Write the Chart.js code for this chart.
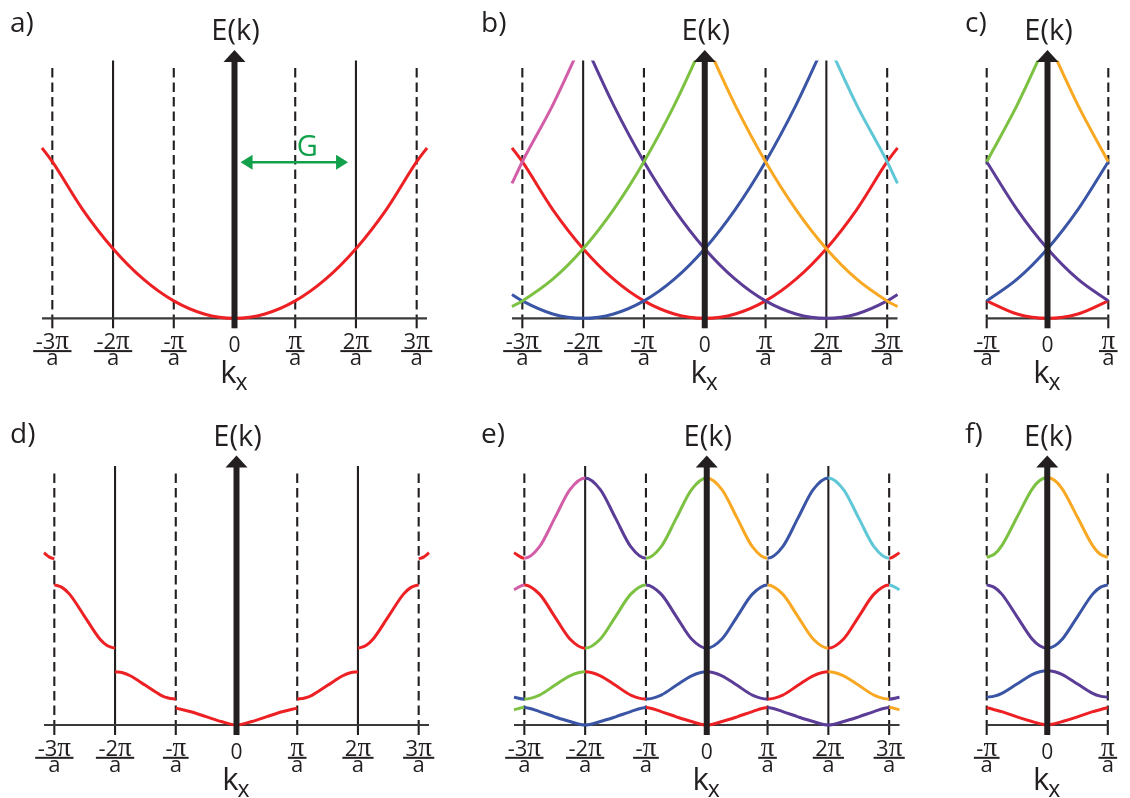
<!DOCTYPE html>
<html><head><meta charset="utf-8">
<script src="https://cdn.jsdelivr.net/npm/chart.js@4/dist/chart.umd.min.js"></script>
<style>
html,body{margin:0;padding:0;background:#fff;}
#wrap{position:relative;width:1130px;height:798px;overflow:hidden;background:#fff;}
#wrap canvas{position:absolute;left:0;top:0;}
</style></head><body><div id="wrap"></div>
<script>
// ================= DATA =================
// tick positions (units of pi/a) and their labels
const tickValsWide = [-3, -2, -1, 0, 1, 2, 3];
const tickLabelsWide = ['-3π', '-2π', '-π', '0', 'π', '2π', '3π'];
const tickValsNarrow = [-1, 0, 1];
const tickLabelsNarrow = ['-π', '0', 'π'];
const solidLinesWide = [-2, 2];
const dashedLinesWide = [-3, -1, 1, 3];
const dashedLinesNarrow = [-1, 1];

// panel a : free electron parabola
const kA = [-3.17, -3, -2.5, -2, -1.5, -1, -0.5, 0, 0.5, 1, 1.5, 2, 2.5, 3, 3.17];
const eA = [9.8, 9.0, 6.25, 4.0, 2.25, 1.0, 0.25, 0, 0.25, 1.0, 2.25, 4.0, 6.25, 9.0, 9.8];

// panel b : repeated parabolas (extended zone)
const kRedB = [-3.17, -3, -2.5, -2, -1.5, -1, -0.5, 0, 0.5, 1, 1.5, 2, 2.5, 3, 3.17];
const eRedB = [9.8, 9.0, 6.25, 4.0, 2.25, 1.0, 0.25, 0, 0.25, 1.0, 2.25, 4.0, 6.25, 9.0, 9.8];
const kBlueB = [-3.17, -3, -2.5, -2, -1.5, -1, -0.5, 0, 0.5, 1, 1.5, 2];
const eBlueB = [1.37, 1.0, 0.25, 0, 0.25, 1.0, 2.25, 4.0, 6.25, 9.0, 12.25, 16.0];
const kPurpleB = [-2, -1.5, -1, -0.5, 0, 0.5, 1, 1.5, 2, 2.5, 3, 3.17];
const ePurpleB = [16.0, 12.25, 9.0, 6.25, 4.0, 2.25, 1.0, 0.25, 0, 0.25, 1.0, 1.37];
const kGreenB = [-3.17, -3, -2.5, -2, -1.5, -1, -0.5, 0];
const eGreenB = [0.67, 1.0, 2.25, 4.0, 6.25, 9.0, 12.25, 16.0];
const kOrangeB = [0, 0.5, 1, 1.5, 2, 2.5, 3, 3.17];
const eOrangeB = [16.0, 12.25, 9.0, 6.25, 4.0, 2.25, 1.0, 0.67];
const kPinkB = [-3.17, -3, -2.5, -2];
const ePinkB = [7.75, 9.0, 12.25, 16.0];
const kCyanB = [2, 2.5, 3, 3.17];
const eCyanB = [16.0, 12.25, 9.0, 7.75];

// panel c : reduced zone of b
const kC = [-1, -0.5, 0, 0.5, 1];
const eRedC = [1.0, 0.25, 0, 0.25, 1.0];
const eBlueC = [1.0, 2.25, 4.0, 6.25, 9.0];
const ePurpleC = [9.0, 6.25, 4.0, 2.25, 1.0];
const kGreenC = [-1, -0.5, 0];
const eGreenC = [9.0, 12.25, 16.0];
const kOrangeC = [0, 0.5, 1];
const eOrangeC = [16.0, 12.25, 9.0];

// panel d : nearly free electron bands, extended zone (gaps at zone edges)
const kD1 = [-1, -0.75, -0.5, -0.25, 0, 0.25, 0.5, 0.75, 1];
const eD1 = [0.97, 0.76, 0.48, 0.2, 0, 0.2, 0.48, 0.76, 0.97];
const kD2L = [-2, -1.875, -1.75, -1.5, -1.25, -1.125, -1];
const eD2L = [3.06, 3.0, 2.83, 2.28, 1.72, 1.55, 1.49];
const kD2R = [1, 1.125, 1.25, 1.5, 1.75, 1.875, 2];
const eD2R = [1.49, 1.55, 1.72, 2.28, 2.83, 3.0, 3.06];
const kD3L = [-3, -2.875, -2.75, -2.5, -2.25, -2.125, -2];
const eD3L = [8.05, 7.91, 7.52, 6.23, 4.94, 4.55, 4.41];
const kD3R = [2, 2.125, 2.25, 2.5, 2.75, 2.875, 3];
const eD3R = [4.41, 4.55, 4.94, 6.23, 7.52, 7.91, 8.05];
const kD4L = [-3.17, -3.08, -3];
const eD4L = [9.9, 9.65, 9.55];
const kD4R = [3, 3.08, 3.17];
const eD4R = [9.55, 9.65, 9.9];

// panel e : same bands, repeated zone scheme
const kE = [-3.17, -3, -2.75, -2.5, -2.25, -2, -1.75, -1.5, -1.25, -1, -0.75, -0.5, -0.25, 0,
            0.25, 0.5, 0.75, 1, 1.25, 1.5, 1.75, 2, 2.25, 2.5, 2.75, 3, 3.17];
const eBand1 = [0.88, 1.0, 0.77, 0.47, 0.2, 0, 0.2, 0.47, 0.77, 1.0, 0.77, 0.47, 0.2, 0,
                0.2, 0.47, 0.77, 1.0, 0.77, 0.47, 0.2, 0, 0.2, 0.47, 0.77, 1.0, 0.88];
const eBand2 = [1.6, 1.49, 1.72, 2.28, 2.83, 3.06, 2.83, 2.28, 1.72, 1.49, 1.72, 2.28, 2.83, 3.06,
                2.83, 2.28, 1.72, 1.49, 1.72, 2.28, 2.83, 3.06, 2.83, 2.28, 1.72, 1.49, 1.6];
const eBand3 = [7.78, 8.05, 7.52, 6.23, 4.94, 4.41, 4.94, 6.23, 7.52, 8.05, 7.52, 6.23, 4.94, 4.41,
                4.94, 6.23, 7.52, 8.05, 7.52, 6.23, 4.94, 4.41, 4.94, 6.23, 7.52, 8.05, 7.78];
const eBand4 = [9.9, 9.58, 10.25, 11.89, 13.53, 14.2, 13.53, 11.89, 10.25, 9.58, 10.25, 11.89, 13.53, 14.2,
                13.53, 11.89, 10.25, 9.58, 10.25, 11.89, 13.53, 14.2, 13.53, 11.89, 10.25, 9.58, 9.9];
// colour of each half-zone piece, from the left edge to the right edge
const eBand1Colors = ['green', 'blue', 'blue', 'red', 'red', 'purple', 'purple', 'orange'];
const eBand2Colors = ['blue', 'green', 'red', 'blue', 'purple', 'red', 'orange', 'purple'];
const eBand3Colors = ['pink', 'red', 'green', 'purple', 'blue', 'orange', 'red', 'cyan'];
const eBand4Colors = ['red', 'pink', 'purple', 'green', 'orange', 'blue', 'cyan', 'red'];

// panel f : reduced zone scheme
const kF = [-1, -0.875, -0.75, -0.5, -0.25, -0.125, 0, 0.125, 0.25, 0.5, 0.75, 0.875, 1];
const fBand1 = [1.0, 0.88, 0.77, 0.47, 0.2, 0.08, 0, 0.08, 0.2, 0.47, 0.77, 0.88, 1.0];
const fBand2 = [1.6, 1.66, 1.82, 2.36, 2.9, 3.06, 3.12, 3.06, 2.9, 2.36, 1.82, 1.66, 1.6];
const fBand3 = [8.05, 7.91, 7.52, 6.23, 4.94, 4.55, 4.41, 4.55, 4.94, 6.23, 7.52, 7.91, 8.05];
const fBand4 = [9.64, 9.81, 10.31, 11.94, 13.56, 14.05, 14.23, 14.05, 13.56, 11.94, 10.31, 9.81, 9.64];
const fBand1Colors = ['red', 'red'];
const fBand2Colors = ['blue', 'purple'];
const fBand3Colors = ['purple', 'blue'];
const fBand4Colors = ['green', 'orange'];

// ================= STYLE =================
const COLORS = {
  red: '#ed2024', blue: '#3a55a5', purple: '#5b3c97', green: '#7cc142',
  orange: '#f9a823', pink: '#d35ea8', cyan: '#5fc7d6'
};
const INK = '#231f20';
const GREEN_G = '#12a14b';
const FONT = '"Open Sans", "Noto Sans", sans-serif';
const PI_FONT = '"Liberation Serif", "DejaVu Serif", serif';
const W = 1130, H = 798;

const panels = {
  a: { L: 42, R: 427, T: 60.5, B: 318.3, xr: 3.17, letter: 'a)', lx: 10, ly: 32,
       ticks: tickValsWide, labels: tickLabelsWide, solid: solidLinesWide, dashed: dashedLinesWide },
  b: { L: 512, R: 897.5, T: 60.5, B: 318.3, xr: 3.17, letter: 'b)', lx: 481, ly: 32,
       ticks: tickValsWide, labels: tickLabelsWide, solid: solidLinesWide, dashed: dashedLinesWide },
  c: { L: 986.7, R: 1108.3, T: 60.5, B: 318.3, xr: 1, letter: 'c)', lx: 965, ly: 32,
       ticks: tickValsNarrow, labels: tickLabelsNarrow, solid: [], dashed: dashedLinesNarrow },
  d: { L: 44, R: 429, T: 466, B: 725, xr: 3.17, letter: 'd)', lx: 10, ly: 443,
       ticks: tickValsWide, labels: tickLabelsWide, solid: solidLinesWide, dashed: dashedLinesWide },
  e: { L: 514, R: 899.5, T: 466, B: 725, xr: 3.17, letter: 'e)', lx: 481, ly: 443,
       ticks: tickValsWide, labels: tickLabelsWide, solid: solidLinesWide, dashed: dashedLinesWide },
  f: { L: 986.7, R: 1107.8, T: 466, B: 725, xr: 1, letter: 'f)', lx: 965, ly: 443,
       ticks: tickValsNarrow, labels: tickLabelsNarrow, solid: [], dashed: dashedLinesNarrow }
};
const PX_PER_UNIT = 17.4;

// G arrow annotation (panel a), in data units
const gArrow = { from: 0.1, to: 1.87, level: 8.97, textX: 1.2, textLevel: 9.35 };

// ================= HELPERS =================
function pts(ks, es) { return ks.map((k, i) => ({ x: k, y: es[i] })); }
function curve(ks, es, color) {
  return { data: pts(ks, es), showLine: true, borderColor: COLORS[color], clip: { left: 3, right: 3, top: 0, bottom: 3 } };
}
function bandCurve(ks, es, colorList, zoneStart) {
  return {
    data: pts(ks, es), showLine: true, borderColor: COLORS[colorList[0]],
    clip: { left: 3, right: 3, top: 0, bottom: 3 },
    segment: {
      borderColor: ctx => {
        const mid = (ctx.p0.parsed.x + ctx.p1.parsed.x) / 2;
        let idx = Math.floor(mid) - zoneStart;
        idx = Math.max(0, Math.min(colorList.length - 1, idx));
        return COLORS[colorList[idx]];
      }
    }
  };
}
function seg(ctx, x1, y1, x2, y2) { ctx.beginPath(); ctx.moveTo(x1, y1); ctx.lineTo(x2, y2); ctx.stroke(); }

// numerator such as "-3π": prefix in the sans font, π in a serif font
function drawNumerator(ctx, lab, cx, by) {
  const pre = lab.slice(0, -1);
  ctx.font = '22px ' + FONT; const wPre = ctx.measureText(pre).width;
  ctx.font = '27px ' + PI_FONT; const wPi = ctx.measureText('π').width;
  const total = wPre + wPi;
  const sx = cx - total / 2;
  ctx.textAlign = 'left';
  ctx.font = '22px ' + FONT; ctx.fillText(pre, sx, by);
  ctx.font = '27px ' + PI_FONT; ctx.fillText('π', sx + wPre, by);
  ctx.textAlign = 'center';
  return total;
}

function framePlugin(p, extra) {
  return {
    id: 'frame',
    beforeDatasetsDraw(chart) {
      const { ctx, chartArea: ca, scales: { x, y } } = chart;
      const y0 = y.getPixelForValue(0);
      ctx.save();
      ctx.strokeStyle = INK; ctx.lineWidth = 2.1; ctx.lineCap = 'butt';
      p.solid.forEach(v => { const px = x.getPixelForValue(v); seg(ctx, px, ca.top, px, y0 + 10); });
      p.dashed.forEach(v => {
        const px = x.getPixelForValue(v);
        ctx.setLineDash([9.5, 5]); seg(ctx, px, ca.top + 7.5, px, y0);
        ctx.setLineDash([]); seg(ctx, px, y0, px, y0 + 10);
      });
      ctx.strokeStyle = '#3a3a3a'; ctx.lineWidth = 2.2;
      seg(ctx, ca.left, y0, ca.right, y0);
      ctx.restore();
    },
    afterDatasetsDraw(chart) {
      const { ctx, chartArea: ca, scales: { x, y } } = chart;
      const y0 = y.getPixelForValue(0);
      const ax = x.getPixelForValue(0);
      ctx.save();
      // y axis arrow
      ctx.fillStyle = INK;
      const tip = ca.top - 10.5, base = ca.top + 1.5;
      ctx.fillRect(ax - 3, base - 0.5, 6, y0 + 10 - base + 0.5);
      ctx.beginPath(); ctx.moveTo(ax, tip); ctx.lineTo(ax - 11, base); ctx.lineTo(ax + 11, base); ctx.closePath(); ctx.fill();
      // E(k)
      ctx.font = '29px ' + FONT; ctx.textAlign = 'center'; ctx.textBaseline = 'alphabetic';
      ctx.fillText('E(k)', ax + 1, ca.top - 20.5);
      // tick labels
      p.ticks.forEach((v, i) => {
        const px = x.getPixelForValue(v);
        const lab = p.labels[i];
        ctx.textAlign = 'center';
        if (lab === '0') { ctx.font = '21px ' + FONT; ctx.fillText('0', px, y0 + 34); return; }
        const tw = drawNumerator(ctx, lab, px, y0 + 30.5);
        const w = tw + 5;
        ctx.fillRect(px - w / 2, y0 + 31.8, w, 2);
        ctx.font = '22px ' + FONT;
        ctx.fillText('a', px, y0 + 47);
      });
      // k_x
      ctx.textAlign = 'left';
      ctx.font = '31px ' + FONT; const wk = ctx.measureText('k').width;
      ctx.font = '23px ' + FONT; const wx = ctx.measureText('x').width;
      const sx = ax - (wk + wx) / 2;
      ctx.font = '31px ' + FONT; ctx.fillText('k', sx, y0 + 64.5);
      ctx.font = '23px ' + FONT; ctx.fillText('x', sx + wk - 1, y0 + 72);
      // panel letter
      ctx.font = '28px ' + FONT; ctx.fillText(p.letter, p.lx, p.ly);
      if (extra) extra(chart);
      ctx.restore();
    }
  };
}

function gArrowDraw(chart) {
  const { ctx, scales: { x, y } } = chart;
  const x1 = x.getPixelForValue(gArrow.from), x2 = x.getPixelForValue(gArrow.to);
  const yy = y.getPixelForValue(gArrow.level);
  ctx.strokeStyle = GREEN_G; ctx.fillStyle = GREEN_G; ctx.lineWidth = 2.6;
  seg(ctx, x1 + 8, yy, x2 - 8, yy);
  ctx.beginPath(); ctx.moveTo(x1, yy); ctx.lineTo(x1 + 12, yy - 7.5); ctx.lineTo(x1 + 12, yy + 7.5); ctx.closePath(); ctx.fill();
  ctx.beginPath(); ctx.moveTo(x2, yy); ctx.lineTo(x2 - 12, yy - 7.5); ctx.lineTo(x2 - 12, yy + 7.5); ctx.closePath(); ctx.fill();
  ctx.font = '29px ' + FONT; ctx.textAlign = 'center';
  ctx.fillText('G', x.getPixelForValue(gArrow.textX), y.getPixelForValue(gArrow.textLevel));
}

function makeChart(p, datasets, extra) {
  const cv = document.createElement('canvas');
  cv.width = W; cv.height = H;
  cv.style.width = W + 'px'; cv.style.height = H + 'px';
  document.getElementById('wrap').appendChild(cv);
  const ymax = (p.B - p.T) / PX_PER_UNIT;
  return new Chart(cv, {
    type: 'scatter',
    data: { datasets },
    options: {
      responsive: false, animation: false, devicePixelRatio: 1, events: [],
      layout: { padding: { left: p.L, right: W - p.R, top: p.T, bottom: H - p.B } },
      plugins: { legend: { display: false }, tooltip: { enabled: false }, title: { display: false } },
      scales: {
        x: { type: 'linear', min: -p.xr, max: p.xr, display: false },
        y: { type: 'linear', min: 0, max: ymax, display: false }
      },
      elements: {
        point: { radius: 0, hoverRadius: 0 },
        line: { borderWidth: 3, cubicInterpolationMode: 'monotone', borderCapStyle: 'butt', borderJoinStyle: 'round' }
      }
    },
    plugins: [framePlugin(p, extra)]
  });
}

// ================= CHARTS =================
makeChart(panels.a, [curve(kA, eA, 'red')], gArrowDraw);

makeChart(panels.b, [
  curve(kPinkB, ePinkB, 'pink'),
  curve(kCyanB, eCyanB, 'cyan'),
  curve(kGreenB, eGreenB, 'green'),
  curve(kOrangeB, eOrangeB, 'orange'),
  curve(kBlueB, eBlueB, 'blue'),
  curve(kPurpleB, ePurpleB, 'purple'),
  curve(kRedB, eRedB, 'red')
]);

makeChart(panels.c, [
  curve(kGreenC, eGreenC, 'green'),
  curve(kOrangeC, eOrangeC, 'orange'),
  curve(kC, eBlueC, 'blue'),
  curve(kC, ePurpleC, 'purple'),
  curve(kC, eRedC, 'red')
]);

makeChart(panels.d, [
  curve(kD1, eD1, 'red'),
  curve(kD2L, eD2L, 'red'), curve(kD2R, eD2R, 'red'),
  curve(kD3L, eD3L, 'red'), curve(kD3R, eD3R, 'red'),
  curve(kD4L, eD4L, 'red'), curve(kD4R, eD4R, 'red')
]);

makeChart(panels.e, [
  bandCurve(kE, eBand1, eBand1Colors, -4),
  bandCurve(kE, eBand2, eBand2Colors, -4),
  bandCurve(kE, eBand3, eBand3Colors, -4),
  bandCurve(kE, eBand4, eBand4Colors, -4)
]);

makeChart(panels.f, [
  bandCurve(kF, fBand1, fBand1Colors, -1),
  bandCurve(kF, fBand2, fBand2Colors, -1),
  bandCurve(kF, fBand3, fBand3Colors, -1),
  bandCurve(kF, fBand4, fBand4Colors, -1)
]);
</script>
</body></html>
